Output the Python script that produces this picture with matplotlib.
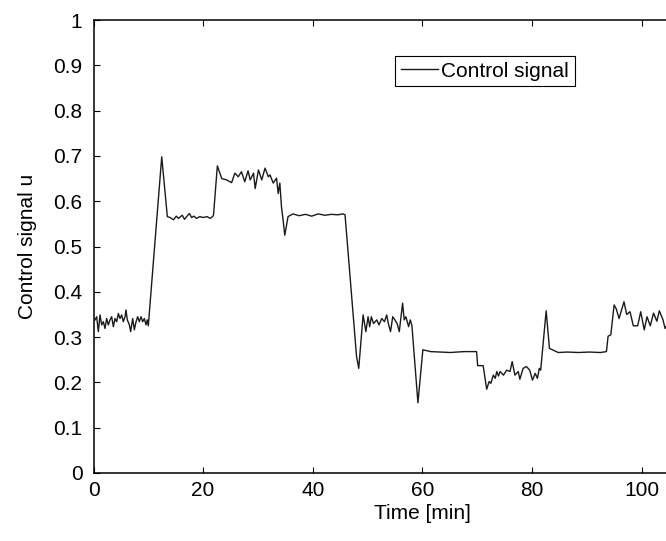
import numpy as np
import matplotlib
matplotlib.use('Agg')
import matplotlib.pyplot as plt

plt.rcParams['font.family'] = ['Liberation Sans', 'DejaVu Sans']

# time [min] and control signal u
t = [0.27, 0.58, 0.88, 1.19, 1.49, 1.79, 2.10, 2.40, 2.71, 3.01, 3.31, 3.62, 3.92,
     4.23, 4.53, 4.84, 5.14, 5.44, 5.75, 5.93, 6.17, 6.54, 6.78, 7.15, 7.45, 7.76,
     8.06, 8.36, 8.67, 8.97, 9.28, 9.58, 9.82, 10.0,
     12.45, 13.47, 13.96, 14.6, 15.1, 15.5, 16.2, 16.6, 17.0, 17.5, 17.9, 18.3,
     18.8, 19.4, 20.0, 20.7, 21.3, 21.8, 21.9,
     22.6, 23.4, 24.3, 25.2, 25.8, 26.4, 27.0, 27.6, 28.2, 28.6, 29.2, 29.5, 30.1,
     30.7, 31.3, 31.9, 32.2, 32.8, 33.4, 33.7, 34.0, 34.3, 34.6, 34.9, 35.5, 36.4,
     37.5, 38.7, 39.8, 41.0, 42.2, 43.4, 44.6, 45.5, 45.9,
     48.0, 48.4, 49.2, 49.7, 50.1, 50.4, 50.7, 51.1, 51.7, 52.1, 52.6, 53.1, 53.5,
     53.8, 54.2, 54.6, 55.0, 55.4, 55.8, 56.4, 56.7, 57.0, 57.5, 57.8, 58.1,
     59.2, 60.1, 61.5, 63.3, 65.1, 67.6, 69.9,
     70.1, 71.1, 71.75, 72.2, 72.5, 72.96, 73.3, 73.6, 73.9, 74.2, 74.8, 75.4, 76.0,
     76.4, 76.9, 77.5, 77.8, 78.4, 79.0, 79.6, 80.1, 80.6, 81.0, 81.35, 81.6,
     82.6, 83.2, 84.8, 86.5, 88.5, 90.5, 92.5, 93.6,
     93.9, 94.4, 95.0, 95.4, 95.9, 96.8, 97.3, 97.9, 98.5, 99.3, 99.85, 100.5,
     101.0, 101.6, 102.2, 102.8, 103.25, 103.9, 104.3, 104.8]
u = [0.338, 0.345, 0.312, 0.349, 0.327, 0.334, 0.319, 0.341, 0.327, 0.338, 0.345,
     0.323, 0.341, 0.334, 0.352, 0.341, 0.349, 0.334, 0.345, 0.360, 0.338, 0.327,
     0.312, 0.341, 0.316, 0.334, 0.345, 0.334, 0.345, 0.334, 0.341, 0.327, 0.338,
     0.325,
     0.698, 0.566, 0.564, 0.559, 0.567, 0.562, 0.569, 0.560, 0.566, 0.573, 0.564,
     0.567, 0.562, 0.566, 0.564, 0.566, 0.562, 0.567, 0.57,
     0.678, 0.650, 0.647, 0.641, 0.662, 0.654, 0.665, 0.643, 0.667, 0.647, 0.662,
     0.628, 0.669, 0.647, 0.673, 0.654, 0.658, 0.640, 0.651, 0.617, 0.640, 0.588,
     0.558, 0.525, 0.566, 0.572, 0.568, 0.571, 0.567, 0.572, 0.569, 0.571, 0.570,
     0.572, 0.570,
     0.257, 0.231, 0.349, 0.312, 0.345, 0.323, 0.345, 0.330, 0.338, 0.327, 0.341,
     0.334, 0.349, 0.330, 0.312, 0.345, 0.338, 0.330, 0.312, 0.375, 0.338, 0.345,
     0.323, 0.338, 0.326,
     0.155, 0.272, 0.268, 0.267, 0.266, 0.268, 0.268,
     0.237, 0.237, 0.185, 0.202, 0.198, 0.216, 0.209, 0.224, 0.214, 0.224, 0.216,
     0.227, 0.224, 0.246, 0.216, 0.224, 0.207, 0.231, 0.235, 0.227, 0.205, 0.220,
     0.209, 0.231, 0.227,
     0.358, 0.275, 0.266, 0.267, 0.266, 0.267, 0.266, 0.268,
     0.302, 0.305, 0.371, 0.362, 0.341, 0.378, 0.350, 0.356, 0.325, 0.325, 0.356,
     0.316, 0.345, 0.325, 0.353, 0.335, 0.358, 0.339, 0.319, 0.33]

fig = plt.figure(figsize=(6.66, 5.41), dpi=100)
ax = fig.add_axes([0.1404, 0.1257, 0.9874, 0.8373])
ax.plot(t, u, color='#1a1a1a', lw=1.0, label='Control signal')
ax.set_xlim(0, 120)
ax.set_ylim(0, 1)
ax.set_xticks(np.arange(0, 101, 20))
ax.set_yticks(np.arange(0, 1.01, 0.1))
ax.set_yticklabels(['0', '0.1', '0.2', '0.3', '0.4', '0.5', '0.6', '0.7', '0.8', '0.9', '1'])
ax.tick_params(direction='in', top=True, right=True, labelsize=15, length=4.3)
ax.tick_params(axis='x', pad=6)
ax.tick_params(axis='y', pad=8)
for s in ax.spines.values():
    s.set_linewidth(1.1)
ax.set_xlabel('Time [min]', fontsize=15, labelpad=3)
ax.set_ylabel('Control signal u', fontsize=15, labelpad=12)

leg = ax.legend(loc='upper left', bbox_to_anchor=(55.0, 0.9205), bbox_transform=ax.transData,
                fontsize=15, fancybox=False, framealpha=1, edgecolor='black',
                handlelength=1.8, handletextpad=0.15, borderpad=0.27, borderaxespad=0)
leg.get_frame().set_linewidth(0.8)

fig.savefig('out.png', dpi=100)
